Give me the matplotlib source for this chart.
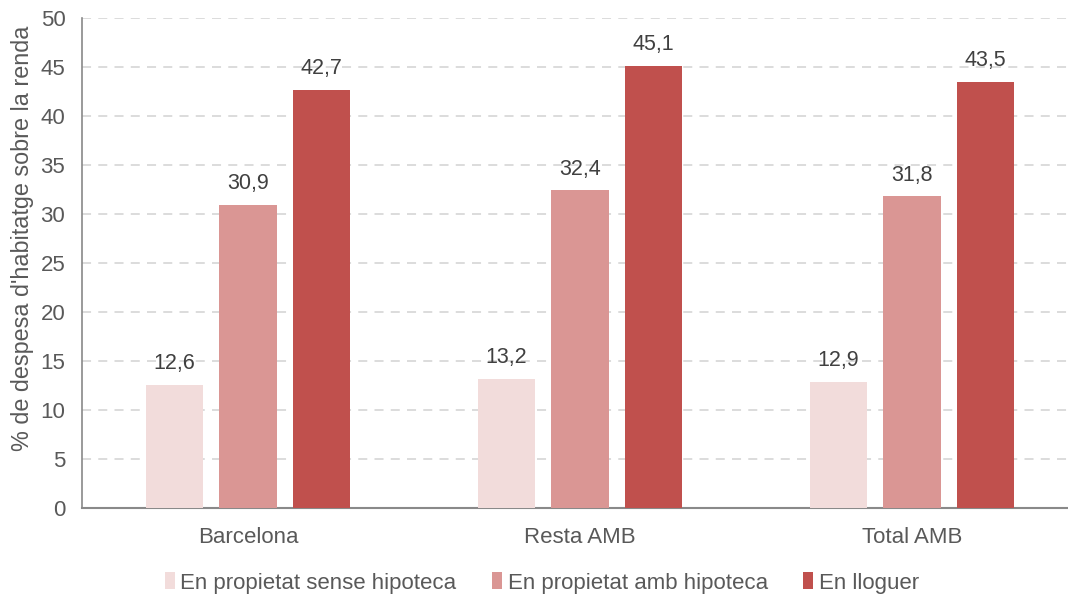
import matplotlib
matplotlib.use("Agg")
import matplotlib.pyplot as plt
import numpy as np
from matplotlib.patches import Patch

categories = ["Barcelona", "Resta AMB", "Total AMB"]
series_names = ["En propietat sense hipoteca", "En propietat amb hipoteca", "En lloguer"]
sense_hipoteca = [12.6, 13.2, 12.9]
amb_hipoteca = [30.9, 32.4, 31.8]
lloguer = [42.7, 45.1, 43.5]
colors = ["#F2DCDB", "#DA9694", "#C0504D"]

plt.rcParams['font.family'] = ['Liberation Sans', 'DejaVu Sans']
txt = "#595959"

fig = plt.figure(figsize=(10.68, 5.97), dpi=100)
W, H = 1068, 597
ax = fig.add_axes([82 / W, (H - 508) / H, 996 / W, 490 / H])

x = np.arange(len(categories))
off = 0.221
bw = 0.172
for i, (vals, c) in enumerate(zip([sense_hipoteca, amb_hipoteca, lloguer], colors)):
    bars = ax.bar(x + (i - 1) * off, vals, bw, color=c, zorder=3)
    for b, v in zip(bars, vals):
        ax.text(b.get_x() + b.get_width() / 2, v + 1.1, f"{v:.1f}".replace(".", ","),
                ha="center", va="bottom", fontsize=15.5, color="#404040")

ax.set_xlim(-0.5, 2.5)
ax.set_ylim(0, 50)
ax.set_yticks(np.arange(0, 51, 5))
ax.set_xticks(x)
ax.set_xticklabels(categories)
ax.tick_params(axis="both", length=0, labelsize=16, colors=txt)
ax.tick_params(axis="x", pad=14)
ax.tick_params(axis="y", pad=12)
ax.yaxis.grid(True, linestyle=(0, (5, 4)), color="#D9D9D9", linewidth=1.3, zorder=0)
ax.set_axisbelow(True)
for s in ["top", "right"]:
    ax.spines[s].set_visible(False)
ax.spines["left"].set_color("#898989")
ax.spines["left"].set_linewidth(1.2)
ax.spines["bottom"].set_color("#898989")
ax.spines["bottom"].set_linewidth(1.5)
ax.set_ylabel("% de despesa d'habitatge sobre la renda", fontsize=16.8, color=txt)
ax.yaxis.set_label_coords(-0.048, 0.55)

handles = [Patch(facecolor=c, edgecolor="none") for c in colors]
fig.legend(handles, series_names, loc="center", bbox_to_anchor=(542 / W, 1 - 583 / H),
           ncol=3, frameon=False, fontsize=16, handlelength=0.45, handleheight=0.8,
           handletextpad=0.25, columnspacing=1.6, labelcolor=txt)

fig.savefig("out.png", dpi=100)
